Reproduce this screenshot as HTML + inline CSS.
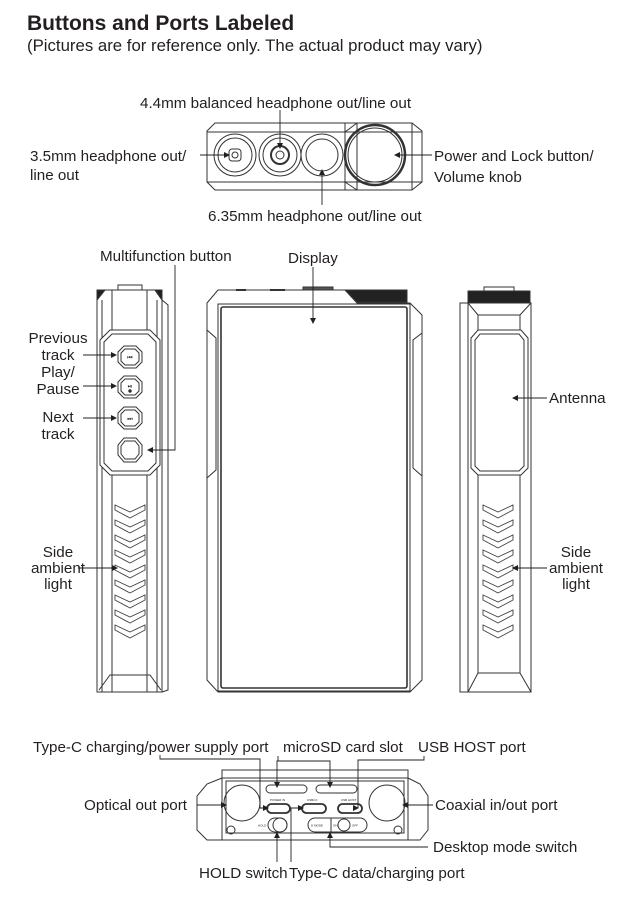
<!DOCTYPE html>
<html><head><meta charset="utf-8"><style>
html,body{margin:0;padding:0;background:#fff;}
svg{display:block;}
text{font-family:"Liberation Sans",sans-serif;fill:#231f20;}
.l{font-size:15.2px;}
</style></head><body>
<svg width="639" height="909" viewBox="0 0 639 909" xmlns="http://www.w3.org/2000/svg">
<defs>
<marker id="a" markerWidth="6" markerHeight="6" refX="5" refY="3" orient="auto" markerUnits="userSpaceOnUse"><path d="M0,0 L6,3 L0,6z" fill="#231f20"/></marker>
<g id="chev"><path d="M0,0 l15,7 l15,-7 v5 l-15,8 l-15,-8z" fill="none" stroke="#444" stroke-width="0.9"/></g>
</defs>
<text x="27" y="30" style="font-size:21px;font-weight:bold">Buttons and Ports Labeled</text>
<text x="27" y="51" style="font-size:16.8px">(Pictures are for reference only. The actual product may vary)</text>

<g fill="none" stroke="#333" stroke-width="1">
<path d="M207,131 L215,123 L412,123 L422,131 L422,182 L412,190 L215,190 L207,182Z"/>
<line x1="207" y1="132" x2="422" y2="132"/><line x1="207" y1="182" x2="422" y2="182"/>
<path d="M345,123 L345,190 M357,123 L357,190 M345,132 L357,123 M345,182 L357,190 M412,123 L412,190"/>
<circle cx="235" cy="155" r="21"/><circle cx="235" cy="155" r="17"/><rect x="229" y="149" width="12" height="12" rx="3"/><circle cx="235" cy="155" r="3"/>
<circle cx="280" cy="155" r="21"/><circle cx="280" cy="155" r="17"/><circle cx="280" cy="155" r="9" stroke-width="2"/><circle cx="280" cy="155" r="4"/>
<circle cx="322" cy="155" r="21"/><circle cx="322" cy="155" r="16"/>
<circle cx="375" cy="155" r="30" stroke-width="2.5"/><circle cx="375" cy="155" r="27"/>

<path d="M97,300 L105,290 L155,290 L162,300 L162,692 L97,692Z"/>
<path d="M102,300 L102,692 M157,300 L157,692 M162,300 L168,305 L168,690 L162,692"/>
<path d="M112,290 L112,692 M147,290 L147,692"/>
<path d="M110,330 L150,330 L160,340 L160,465 L150,475 L110,475 L100,465 L100,340Z" fill="#fff"/>
<path d="M112,334 L148,334 L156,342 L156,463 L148,471 L112,471 L104,463 L104,342Z"/>
<path d="M99,690 L110,675 L150,675 L161,690"/>
<path d="M97,290 h8 l-8,10z M155,290 h7 v10z" fill="#222"/>
<rect x="118" y="285" width="24" height="5"/>
<g transform="translate(130,357)"><path d="M-6,-11 L6,-11 L12,-5 L12,5 L6,11 L-6,11 L-12,5 L-12,-5Z"/><path d="M-5,-8 L5,-8 L9,-4 L9,4 L5,8 L-5,8 L-9,4 L-9,-4Z"/><text x="0" y="2.5" style="font-size:6px" text-anchor="middle" stroke="none">⏮</text></g>
<g transform="translate(130,387)"><path d="M-6,-11 L6,-11 L12,-5 L12,5 L6,11 L-6,11 L-12,5 L-12,-5Z"/><path d="M-5,-8 L5,-8 L9,-4 L9,4 L5,8 L-5,8 L-9,4 L-9,-4Z"/><text x="0" y="1" style="font-size:6px" text-anchor="middle" stroke="none">⏯</text><circle cx="0" cy="4" r="1.2" fill="#222"/></g>
<g transform="translate(130,418)"><path d="M-6,-11 L6,-11 L12,-5 L12,5 L6,11 L-6,11 L-12,5 L-12,-5Z"/><path d="M-5,-8 L5,-8 L9,-4 L9,4 L5,8 L-5,8 L-9,4 L-9,-4Z"/><text x="0" y="2.5" style="font-size:6px" text-anchor="middle" stroke="none">⏭</text></g>
<g transform="translate(130,450)"><path d="M-6,-12 L6,-12 L12,-5 L12,5 L6,12 L-6,12 L-12,5 L-12,-5Z"/><path d="M-5,-9 L5,-9 L9,-4 L9,4 L5,9 L-5,9 L-9,4 L-9,-4Z"/></g>
</g>
<g>
<use href="#chev" x="115" y="505"/><use href="#chev" x="115" y="520"/><use href="#chev" x="115" y="535"/><use href="#chev" x="115" y="550"/><use href="#chev" x="115" y="565"/><use href="#chev" x="115" y="580"/><use href="#chev" x="115" y="595"/><use href="#chev" x="115" y="610"/><use href="#chev" x="115" y="625"/>
</g>

<g fill="none" stroke="#333" stroke-width="1">
<path d="M207,303 L218,290 L345,290 L357,303 L410,303 L422,315 L422,680 L410,692 L218,692 L207,680Z"/>
<rect x="218" y="304" width="192" height="387"/>
<rect x="221" y="307" width="186" height="381" rx="2" stroke-width="1.6"/>
<path d="M207,330 L216,338 L216,470 L207,478 M422,333 L413,340 L413,468 L422,476"/>
<line x1="236" y1="290" x2="246" y2="290" stroke-width="2"/><line x1="270" y1="290" x2="285" y2="290" stroke-width="2"/>
<rect x="303" y="287" width="30" height="3" fill="#555"/>
<path d="M345,290 L407,290 L407,302 L357,302Z" fill="#222"/>

<path d="M460,303 L468,303 L468,692 L460,692Z"/>
<rect x="468" y="303" width="63" height="389"/>
<path d="M468,303 L478,315 L520,315 L531,303 M478,315 L478,673 M520,315 L520,673 M468,692 L478,673 L520,673 L531,692"/>
<path d="M478,330 L521,330 L528,338 L528,468 L521,475 L478,475 L471,468 L471,338Z" fill="#fff"/>
<path d="M480,334 L519,334 L524,340 L524,466 L519,471 L480,471 L475,466 L475,340Z"/>
<rect x="468" y="291" width="62" height="12" fill="#222"/>
<rect x="484" y="287" width="30" height="4"/>
</g>
<g>
<use href="#chev" x="483" y="505"/><use href="#chev" x="483" y="520"/><use href="#chev" x="483" y="535"/><use href="#chev" x="483" y="550"/><use href="#chev" x="483" y="565"/><use href="#chev" x="483" y="580"/><use href="#chev" x="483" y="595"/><use href="#chev" x="483" y="610"/><use href="#chev" x="483" y="625"/>
</g>

<g fill="none" stroke="#333" stroke-width="1">
<path d="M222,770 L408,770 L408,778 L222,778Z"/>
<path d="M222,778 L207,784 L197,796 L197,830 L207,840 L222,840 M408,778 L420,784 L428,796 L428,830 L420,840 L408,840"/>
<rect x="222" y="778" width="186" height="62"/>
<rect x="226" y="781" width="178" height="52"/>
<circle cx="242" cy="803" r="18"/><circle cx="387" cy="803" r="18"/>
<rect x="266" y="785" width="41" height="8" rx="4"/><rect x="316" y="785" width="41" height="8" rx="4"/>
<rect x="267" y="804" width="23" height="9" rx="4.5" stroke-width="1.8"/><rect x="302" y="804" width="24" height="9" rx="4.5" stroke-width="1.8"/><rect x="338" y="804" width="24" height="9" rx="4.5" stroke-width="1.8"/>
<circle cx="280" cy="825" r="7"/><rect x="268" y="818" width="19" height="14" rx="7"/>
<rect x="308" y="818" width="59" height="14" rx="7"/><line x1="331" y1="818" x2="331" y2="832"/><circle cx="344" cy="825" r="6"/>
<circle cx="231" cy="830" r="4"/><circle cx="398" cy="830" r="4"/>
</g>
<g style="font-size:3px" fill="#333">
<text x="270" y="801">POWER IN</text><text x="307" y="801">USB2.0</text><text x="341" y="801">USB HOST</text>
<text x="258" y="826.5">HOLD</text><text x="311" y="826.5">D MODE</text><text x="333" y="826.5">ON</text><text x="352" y="826.5">OFF</text>
</g>

<g fill="none" stroke="#231f20" stroke-width="0.9" marker-end="url(#a)">
<line x1="280" y1="110" x2="280" y2="148"/>
<line x1="322" y1="205" x2="322" y2="170"/>
<line x1="200" y1="155" x2="229" y2="155"/>
<line x1="432" y1="155" x2="395" y2="155"/>
<polyline points="175,265 175,450 148,450"/>
<line x1="313" y1="267" x2="313" y2="323"/>
<line x1="547" y1="398" x2="513" y2="398"/>
<line x1="547" y1="568" x2="513" y2="568"/>
<line x1="83" y1="355" x2="116" y2="355"/>
<line x1="83" y1="386" x2="116" y2="386"/>
<line x1="83" y1="418" x2="116" y2="418"/>
<line x1="78" y1="568" x2="117" y2="568"/>
<polyline points="160,755 160,759 260,759 260,808 268,808"/>
<polyline points="278,756 278,761 277,761 277,787"/>
<polyline points="278,761 330,761 330,787"/>
<polyline points="424,756 424,760 358,760 358,808 358,808"/>
<line x1="197" y1="805" x2="226" y2="805"/>
<line x1="433" y1="805" x2="403" y2="805"/>
<line x1="277" y1="862" x2="277" y2="833"/>
<polyline points="291,862 291,808 303,808"/>
<polyline points="428,847 330,847 330,833"/>
</g>

<g class="l">
<text x="140" y="108">4.4mm balanced headphone out/line out</text>
<text x="208" y="221">6.35mm headphone out/line out</text>
<text x="30" y="161">3.5mm headphone out/</text>
<text x="30" y="180">line out</text>
<text x="434" y="161">Power and Lock button/</text>
<text x="434" y="182">Volume knob</text>
<text x="100" y="261">Multifunction button</text>
<text x="288" y="263">Display</text>
<text x="58" y="343" text-anchor="middle">Previous</text>
<text x="58" y="360" text-anchor="middle">track</text>
<text x="58" y="377" text-anchor="middle">Play/</text>
<text x="58" y="394" text-anchor="middle">Pause</text>
<text x="58" y="422" text-anchor="middle">Next</text>
<text x="58" y="439" text-anchor="middle">track</text>
<text x="58" y="557" text-anchor="middle">Side</text>
<text x="58" y="573" text-anchor="middle">ambient</text>
<text x="58" y="589" text-anchor="middle">light</text>
<text x="549" y="403">Antenna</text>
<text x="576" y="557" text-anchor="middle">Side</text>
<text x="576" y="573" text-anchor="middle">ambient</text>
<text x="576" y="589" text-anchor="middle">light</text>
<text x="33" y="752">Type-C charging/power supply port</text>
<text x="283" y="752">microSD card slot</text>
<text x="418" y="752">USB HOST port</text>
<text x="84" y="810">Optical out port</text>
<text x="435" y="810">Coaxial in/out port</text>
<text x="433" y="852">Desktop mode switch</text>
<text x="199" y="878">HOLD switch</text>
<text x="289" y="878">Type-C data/charging port</text>
</g>
</svg>
</body></html>
